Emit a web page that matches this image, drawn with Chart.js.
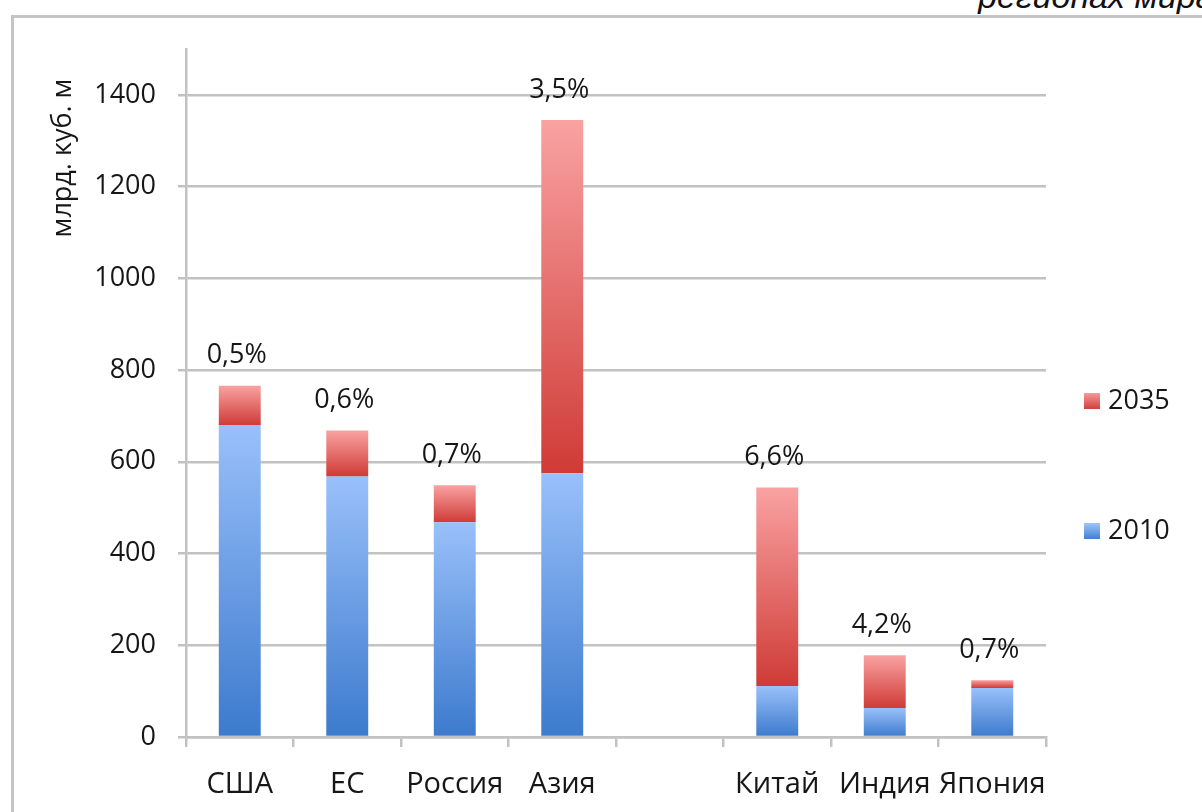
<!DOCTYPE html>
<html>
<head>
<meta charset="utf-8">
<script src="https://cdn.jsdelivr.net/npm/chart.js@4"></script>
<style>
  html, body { margin: 0; padding: 0; background: #fff; overflow: hidden; }
  #frame { position: absolute; left: 11px; top: 15px; width: 1400px; height: 1000px;
           border-left: 3px solid #c4c4c4; border-top: 3px solid #c4c4c4; }
  #caption { position: absolute; left: 0; top: 0; width: 1202px; height: 14px; overflow: hidden; }
  #caption span { position: absolute; left: 978px; top: -23px; white-space: nowrap;
                  font: italic 34px "Liberation Sans Narrow", "Liberation Sans", Arial, sans-serif; color: #111; }
  canvas { position: absolute; left: 0; top: 0; }
</style>
</head>
<body>
<div id="frame"></div>
<div id="caption"><span>регионах мира</span></div>
<canvas id="gasChart" width="1202" height="812"></canvas>
<script>
// gas demand by region, bcm
const categories = ['США', 'ЕС', 'Россия', 'Азия', '', 'Китай', 'Индия', 'Япония'];
const gas2010 = [680, 568, 468, 575, null, 111, 63, 107];
const gas2035 = [766, 668, 549, 1345, null, 544, 178, 124];
const growth = ['0,5%', '0,6%', '0,7%', '3,5%', '', '6,6%', '4,2%', '0,7%'];
const yTicks = [0, 200, 400, 600, 800, 1000, 1200, 1400];

const FONT = '"Open Sans", "Noto Sans", sans-serif';
const GRID = '#c2c2c2';
const TEXT = '#161616';

// red part of the bar = growth from 2010 to 2035
const added = gas2035.map((v, i) => v == null ? null : v - gas2010[i]);

function segGradient(ctx, light, dark) {
  const chart = ctx.chart;
  const y = chart.scales.y;
  if (!chart.chartArea || !y || ctx.raw == null) return dark;
  const i = ctx.dataIndex;
  const base = ctx.datasetIndex === 0 ? 0 : gas2010[i];
  const top = base + ctx.raw;
  const g = chart.ctx.createLinearGradient(0, y.getPixelForValue(top), 0, y.getPixelForValue(base));
  g.addColorStop(0, light);
  g.addColorStop(1, dark);
  return g;
}

const extras = {
  id: 'extras',
  afterDatasetsDraw(chart) {
    const c = chart.ctx;
    c.save();
    c.fillStyle = TEXT;
    c.font = '27px ' + FONT;
    c.textAlign = 'center';
    c.textBaseline = 'middle';
    const meta = chart.getDatasetMeta(1);
    meta.data.forEach((bar, i) => {
      if (!growth[i]) return;
      c.fillText(growth[i], bar.x - 3, bar.y - 30);
    });
    c.restore();
  },
  afterDraw(chart) {
    const c = chart.ctx;
    c.save();
    // axis title
    c.translate(63, 158);
    c.rotate(-Math.PI / 2);
    c.font = '27px ' + FONT;
    c.fillStyle = TEXT;
    c.textAlign = 'center';
    c.textBaseline = 'middle';
    c.fillText('млрд. куб. м', 0, 0);
    c.restore();

    // legend
    const items = [
      { label: '2035', light: '#f59a9a', dark: '#d2403b', y: 401 },
      { label: '2010', light: '#a0c6f8', dark: '#3f7fd2', y: 531 }
    ];
    c.save();
    c.font = '27px ' + FONT;
    c.textBaseline = 'middle';
    items.forEach(it => {
      const g = c.createLinearGradient(0, it.y - 8, 0, it.y + 8);
      g.addColorStop(0, it.light);
      g.addColorStop(1, it.dark);
      c.fillStyle = g;
      c.fillRect(1084, it.y - 8, 16, 16);
      c.fillStyle = TEXT;
      c.fillText(it.label, 1108, it.y);
    });
    c.restore();
  }
};

new Chart(document.getElementById('gasChart'), {
  type: 'bar',
  data: {
    labels: categories,
    datasets: [
      {
        label: '2010',
        data: gas2010,
        backgroundColor: ctx => segGradient(ctx, '#99c0fa', '#3c7acd'),
        categoryPercentage: 1,
        barPercentage: 0.39
      },
      {
        label: '2035',
        data: added,
        backgroundColor: ctx => segGradient(ctx, '#f9a2a2', '#cf3b36'),
        categoryPercentage: 1,
        barPercentage: 0.39
      }
    ]
  },
  options: {
    responsive: false,
    animation: false,
    layout: { padding: { top: 49, right: 156, left: 0, bottom: 0 } },
    plugins: {
      legend: { display: false },
      tooltip: { enabled: false }
    },
    scales: {
      x: {
        stacked: true,
        afterFit: s => { s.height = 75; },
        grid: {
          display: true,
          offset: true,
          drawOnChartArea: false,
          drawTicks: true,
          tickLength: 10,
          color: GRID,
          lineWidth: 2.5
        },
        border: { display: true, color: GRID, width: 2.5 },
        ticks: {
          color: TEXT,
          font: { family: FONT, size: 29 },
          padding: 20,
          maxRotation: 0,
          autoSkip: false
        }
      },
      y: {
        stacked: true,
        min: 0,
        max: 1500,
        afterFit: s => { s.width = 186; },
        afterBuildTicks: s => { s.ticks = yTicks.map(v => ({ value: v })); },
        grid: {
          color: GRID,
          lineWidth: 2.5,
          drawTicks: true,
          tickLength: 8
        },
        border: { display: true, color: GRID, width: 2.5 },
        ticks: {
          color: TEXT,
          font: { family: FONT, size: 27 },
          padding: 22,
          callback: v => String(v)
        }
      }
    }
  },
  plugins: [extras]
});
</script>
</body>
</html>
